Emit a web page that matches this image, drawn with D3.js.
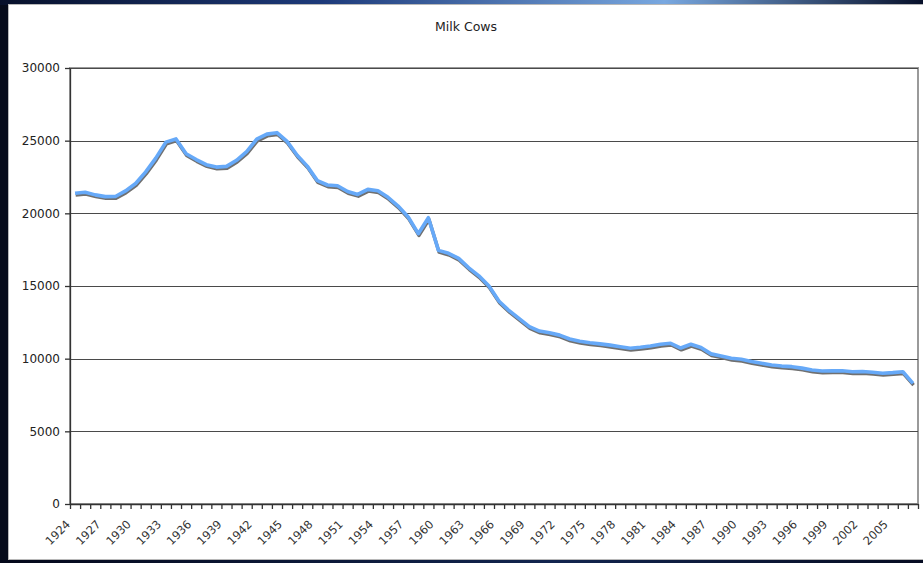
<!DOCTYPE html>
<html>
<head>
<meta charset="utf-8">
<script src="https://cdn.jsdelivr.net/npm/d3@7"></script>
<style>
    html, body { margin: 0; padding: 0; background: #060b1a; overflow: hidden; }
    svg { display: block; }
</style>
</head>
<body>
<div id="chart"></div>
<script>
// years on the category axis
const years = [
    1924, 1925, 1926, 1927, 1928, 1929, 1930, 1931, 1932, 1933, 1934, 1935,
    1936, 1937, 1938, 1939, 1940, 1941, 1942, 1943, 1944, 1945, 1946, 1947,
    1948, 1949, 1950, 1951, 1952, 1953, 1954, 1955, 1956, 1957, 1958, 1959,
    1960, 1961, 1962, 1963, 1964, 1965, 1966, 1967, 1968, 1969, 1970, 1971,
    1972, 1973, 1974, 1975, 1976, 1977, 1978, 1979, 1980, 1981, 1982, 1983,
    1984, 1985, 1986, 1987, 1988, 1989, 1990, 1991, 1992, 1993, 1994, 1995,
    1996, 1997, 1998, 1999, 2000, 2001, 2002, 2003, 2004, 2005, 2006, 2007
];

// milk cows
const milkCows = [
    21380, 21450, 21270, 21150, 21160, 21540, 22050, 22850, 23800, 24900, 25120, 24100,
    23700, 23350, 23180, 23230, 23650, 24250, 25100, 25450, 25550, 24950, 24000, 23250,
    22250, 21950, 21900, 21500, 21300, 21650, 21550, 21100, 20500, 19750, 18600, 19700,
    17450, 17250, 16900, 16250, 15700, 15000, 13950, 13300, 12750, 12200, 11900, 11780,
    11620, 11350, 11200, 11100, 11020, 10930, 10820, 10720, 10780, 10870, 10990, 11060,
    10730, 10990, 10770, 10330, 10190, 10030, 9960, 9800, 9680, 9570, 9490, 9450,
    9350, 9220, 9150, 9160, 9170, 9100, 9120, 9060, 9000, 9040, 9100, 8300
];

const yTicks = [0, 5000, 10000, 15000, 20000, 25000, 30000];
const xTickLabels = [
    1924, 1927, 1930, 1933, 1936, 1939, 1942, 1945, 1948, 1951, 1954, 1957, 1960, 1963,
    1966, 1969, 1972, 1975, 1978, 1981, 1984, 1987, 1990, 1993, 1996, 1999, 2002, 2005
];
const chartTitle = 'Milk Cows';

class LineChart {
    constructor(_config, _years, _values) {
        this.config = {
            parentElement: _config.parentElement,
            containerWidth: _config.containerWidth || 923,
            containerHeight: _config.containerHeight || 563,
            margin: _config.margin || {top: 68, right: 5, bottom: 59, left: 70}
        }
        this.years = _years;
        this.values = _values;
        this.InitVis();
    }

    InitVis() {
        let vis = this;

        vis.width = vis.config.containerWidth - vis.config.margin.left - vis.config.margin.right;
        vis.height = vis.config.containerHeight - vis.config.margin.top - vis.config.margin.bottom;

        vis.svg = d3.select(vis.config.parentElement).append('svg')
            .attr('width', vis.config.containerWidth)
            .attr('height', vis.config.containerHeight);

        // dark frame with the blue streak along the top and bottom
        const defs = vis.svg.append('defs');
        const grad = defs.append('linearGradient').attr('id', 'streak');
        grad.append('stop').attr('offset', '0%').attr('stop-color', '#07102a');
        grad.append('stop').attr('offset', '35%').attr('stop-color', '#1d3a7a');
        grad.append('stop').attr('offset', '72%').attr('stop-color', '#79a8e0');
        grad.append('stop').attr('offset', '100%').attr('stop-color', '#07102a');

        const gradB = defs.append('linearGradient').attr('id', 'streakB');
        gradB.append('stop').attr('offset', '0%').attr('stop-color', '#04081a');
        gradB.append('stop').attr('offset', '60%').attr('stop-color', '#12254f');
        gradB.append('stop').attr('offset', '100%').attr('stop-color', '#060c22');

        vis.svg.append('rect')
            .attr('width', vis.config.containerWidth)
            .attr('height', vis.config.containerHeight)
            .attr('fill', '#060b1a');
        vis.svg.append('rect')
            .attr('width', vis.config.containerWidth)
            .attr('height', 5)
            .attr('fill', 'url(#streak)');
        vis.svg.append('rect')
            .attr('y', 560)
            .attr('width', vis.config.containerWidth)
            .attr('height', 3)
            .attr('fill', 'url(#streakB)');

        // white chart panel
        vis.svg.append('rect')
            .attr('x', 8.5).attr('y', 4.5)
            .attr('width', 920).attr('height', 555)
            .attr('fill', '#fff')
            .attr('stroke', '#b8b8b8');

        vis.svg.append('text')
            .attr('x', 466).attr('y', 31)
            .attr('text-anchor', 'middle')
            .style('font-family', 'DejaVu Sans, Verdana, sans-serif')
            .style('font-size', '12.5px')
            .attr('fill', '#222')
            .text(chartTitle);

        vis.chart = vis.svg.append('g')
            .attr('transform', `translate(${vis.config.margin.left},${vis.config.margin.top})`);

        // category boundaries 0..n, points sit in the middle of each slot
        vis.xScale = d3.scaleLinear()
            .range([0, vis.width]);

        vis.yScale = d3.scaleLinear()
            .range([vis.height, 0]);

        vis.xAxis = d3.axisBottom(vis.xScale)
            .tickSize(5)
            .tickSizeOuter(0)
            .tickFormat('');

        vis.yAxis = d3.axisLeft(vis.yScale)
            .tickValues(yTicks)
            .tickSize(5)
            .tickSizeOuter(0)
            .tickPadding(5)
            .tickFormat(d3.format('d'));

        vis.gridGroup = vis.chart.append('g').attr('class', 'grid');
        vis.lineGroup = vis.chart.append('g').attr('class', 'lines');

        vis.xAxisGroup = vis.chart.append('g')
            .attr('class', 'axis x-axis')
            .attr('transform', `translate(0, ${vis.height})`);

        vis.yAxisGroup = vis.chart.append('g')
            .attr('class', 'axis y-axis');

        vis.labelGroup = vis.chart.append('g').attr('class', 'x-labels');
    }

    UpdateVis() {
        let vis = this;

        vis.xScale.domain([0, vis.years.length]);
        vis.yScale.domain([0, d3.max(yTicks)]);
        vis.xAxis.tickValues(d3.range(vis.years.length + 1));

        vis.RenderVis();
    }

    RenderVis() {
        let vis = this;

        // plot area border + gridlines
        vis.gridGroup.append('rect')
            .attr('x', 0).attr('y', 0)
            .attr('width', vis.width).attr('height', vis.height)
            .attr('fill', 'none')
            .attr('stroke', '#9a9a9a')
            .attr('stroke-width', 2);

        vis.gridGroup.selectAll('line')
            .data(yTicks.filter(d => d > 0))
            .join('line')
            .attr('x1', 0)
            .attr('x2', vis.width)
            .attr('y1', d => Math.round(vis.yScale(d)) + 0.5)
            .attr('y2', d => Math.round(vis.yScale(d)) + 0.5)
            .attr('stroke', '#4a4a4a')
            .attr('stroke-width', 1.2);

        const line = d3.line()
            .x((d, i) => vis.xScale(i + 0.5))
            .y(d => vis.yScale(d));

        // soft grey shadow under the blue line
        vis.lineGroup.append('path')
            .datum(vis.values)
            .attr('d', line)
            .attr('transform', 'translate(0.6, 1.8)')
            .attr('fill', 'none')
            .attr('stroke', '#707070')
            .attr('stroke-width', 3.4)
            .attr('stroke-linejoin', 'round');

        vis.lineGroup.append('path')
            .datum(vis.values)
            .attr('d', line)
            .attr('fill', 'none')
            .attr('stroke', '#66a9f8')
            .attr('stroke-width', 3.6)
            .attr('stroke-linejoin', 'round');

        vis.xAxisGroup.call(vis.xAxis);
        vis.yAxisGroup.call(vis.yAxis);

        vis.chart.selectAll('.axis path, .axis line')
            .attr('stroke', '#333')
            .attr('stroke-width', 1.3);
        vis.yAxisGroup.selectAll('text')
            .style('font-family', 'DejaVu Sans, Verdana, sans-serif')
            .style('font-size', '12px')
            .attr('fill', '#222');

        // rotated year labels, every third year
        vis.labelGroup.selectAll('text')
            .data(xTickLabels)
            .join('text')
            .attr('transform', d => {
                const i = vis.years.indexOf(d);
                return `translate(${vis.xScale(i + 0.5) - 4}, ${vis.height + 21}) rotate(-45)`;
            })
            .attr('text-anchor', 'end')
            .style('font-family', 'DejaVu Sans, Verdana, sans-serif')
            .style('font-size', '11.5px')
            .attr('fill', '#333')
            .text(d => d);
    }
}

const chart = new LineChart({parentElement: '#chart'}, years, milkCows);
chart.UpdateVis();
</script>
</body>
</html>
